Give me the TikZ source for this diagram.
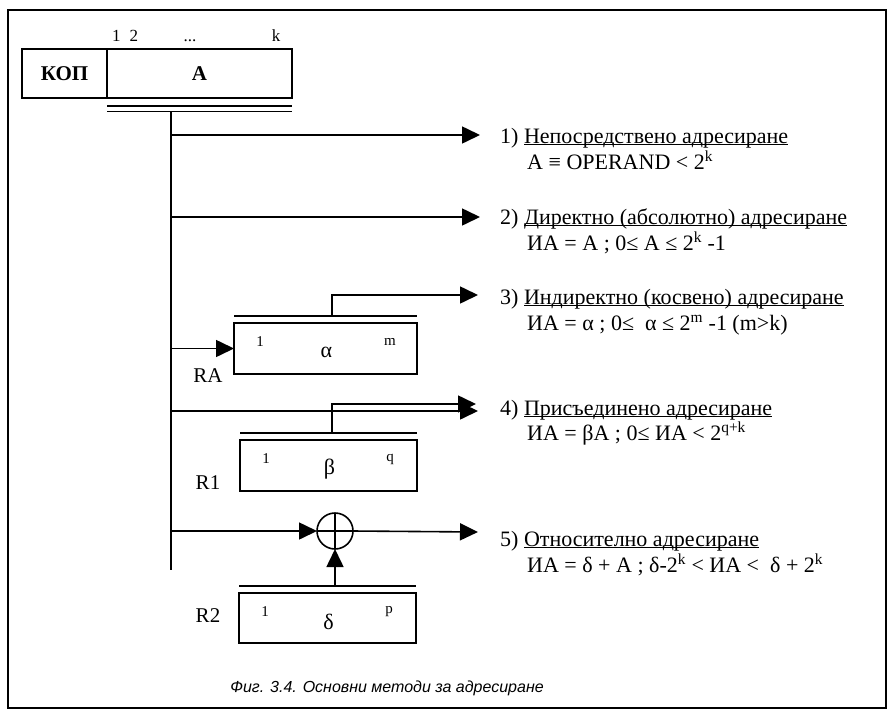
\documentclass[tikz,border=0pt]{standalone}
\usepackage{fontspec}
\setmainfont{Liberation Serif}
\newfontfamily\capfont{Liberation Sans}
\usetikzlibrary{positioning}
\usetikzlibrary{arrows.meta}
\newcommand\uln[1]{\underline{\smash{#1}}}
\tikzset{
    field/.style = {rectangle, draw=black, line width=1.6pt, outer sep=0pt, inner sep=0pt, minimum height=49pt, font=\fontsize{21}{24}\selectfont\bfseries},
    reg/.style = {rectangle, draw=black, line width=1.6pt, outer sep=0pt, inner sep=0pt, minimum width=177pt, minimum height=51pt},
    bit/.style = {inner sep=0pt, font=\fontsize{15}{17}\selectfont},
    topbit/.style = {inner sep=0pt, font=\fontsize{17}{19}\selectfont},
    greek/.style = {inner sep=0pt, font=\fontsize{22}{24}\selectfont},
    regname/.style = {inner sep=0pt, font=\fontsize{21}{24}\selectfont},
    mode/.style = {anchor=base west, inner sep=0pt, font=\fontsize{22}{25}\selectfont},
    adder/.style = {circle, draw=black, line width=1.6pt, outer sep=0pt, inner sep=0pt, minimum size=36pt},
    bus/.style = {line width=1.6pt},
    edgen/.style = {-{Triangle[length=18pt,width=17pt]}, line width=1.6pt}, % to a method
}

\begin{document}
\begin{tikzpicture}[x=1pt, y=-1pt]
  \useasboundingbox (0,0) rectangle (888,712);
  \draw[line width=1.6pt] (8,10) rectangle (886,708);

  % instruction word
  \node[field, minimum width=85pt] (kop) at (64.5,73.5) {КОП};
  \node[field, minimum width=185pt, right=0pt of kop] (a) {A};
  \node[topbit, anchor=base west] (b12) at (112,41) {1\hspace{9pt}2};
  \node[topbit, anchor=base] (bdots) at (190,41) {...};
  \node[topbit, anchor=base] (bk) at (276,41) {k};
  \draw[bus] ([yshift=-8pt]a.south west) -- ([yshift=-8pt]a.south east);
  \draw[line width=1pt] ([yshift=-13pt]a.south west) -- ([yshift=-13pt]a.south east);

  % address bus
  \coordinate (top) at (171,111);
  \coordinate (bot) at (171,570);
  \draw[bus] (top) -- (bot);

  % registers
  \node[reg, minimum width=183pt] (ra) at (325.5,348.5) {};
  \node[reg] (r1) at (328.5,465.5) {};
  \node[reg, minimum height=50pt] (r2) at (327.5,618) {};
  \foreach \r/\g/\n in {ra/α/m, r1/β/q, r2/δ/p} {
    \node[bit] (\r lo) at ([shift={(26,19)}]\r.north west) {1};
    \node[greek] (\r val) at ([xshift=1pt,yshift=-4pt]\r.center) {\g};
    \node[bit] (\r hi) at ([shift={(-27,19)}]\r.north east) {\n};
    \draw[bus] ([yshift=7pt]\r.north west) -- ([yshift=7pt]\r.north east);
  }
  \node[regname] (raname) at (208,376) {RA};
  \node[regname] (r1name) at (208,483) {R1};
  \node[regname] (r2name) at (208,616) {R2};

  % adder
  \node[adder] (sum) at (335,531) {};
  \draw[line width=1.2pt] (sum.north) -- (sum.south);
  \draw[line width=1.2pt] (sum.west) -- (sum.east);

  % methods
  \node[mode] (m1) at (500,143) {1) \uln{Непосредствено адресиране}};
  \node[mode] (f1) at (527,169) {A ≡ OPERAND < 2\textsuperscript{k}};
  \node[mode] (m2) at (500,224) {2) \uln{Директно (абсолютно) адресиране}};
  \node[mode] (f2) at (527,250) {ИА = A ; 0≤ A ≤ 2\textsuperscript{k} -1};
  \node[mode] (m3) at (500,304) {3) \uln{Индиректно (косвено) адресиране}};
  \node[mode] (f3) at (527,330) {ИА = α ; 0≤ \ α ≤ 2\textsuperscript{m} -1 (m>k)};
  \node[mode] (m4) at (500,415) {4) \uln{Присъединено адресиране}};
  \node[mode] (f4) at (527,440) {ИА = βA ; 0≤ ИА < 2\textsuperscript{q+k}};
  \node[mode] (m5) at (500,546) {5) \uln{Относително адресиране}};
  \node[mode] (f5) at (527,572) {ИА = δ + A ; δ-2\textsuperscript{k} < ИА < \ δ + 2\textsuperscript{k}};

  \coordinate (e1) at (480,135);
  \coordinate (e2) at (480,217);
  \coordinate (e3) at (478,295);
  \coordinate (e4a) at (476,404);
  \coordinate (e4b) at (478,411);
  \coordinate (e5) at (478,532);

  \draw[edgen] (top |- e1) -- (e1);
  \draw[edgen] (top |- e2) -- (e2);
  \draw[edgen] (top |- ra.west) -- (ra.west);
  \draw[edgen] ([xshift=6.5pt,yshift=7pt]ra.north) |- (e3);
  \draw[edgen] ([xshift=3.5pt,yshift=7pt]r1.north) |- (e4a);
  \draw[edgen] (top |- e4b) -- (e4b);
  \draw[edgen] (top |- sum.west) -- (sum.west);
  \draw[edgen] ([yshift=7pt]r2.north -| sum.south) -- (sum.south);
  \draw[edgen] (sum.east) -- (e5);

  \node[font=\capfont\itshape\fontsize{16}{19}\selectfont] (caption) at (387,688) {Фиг. 3.4. Основни методи за адресиране};
\end{tikzpicture}
\end{document}
